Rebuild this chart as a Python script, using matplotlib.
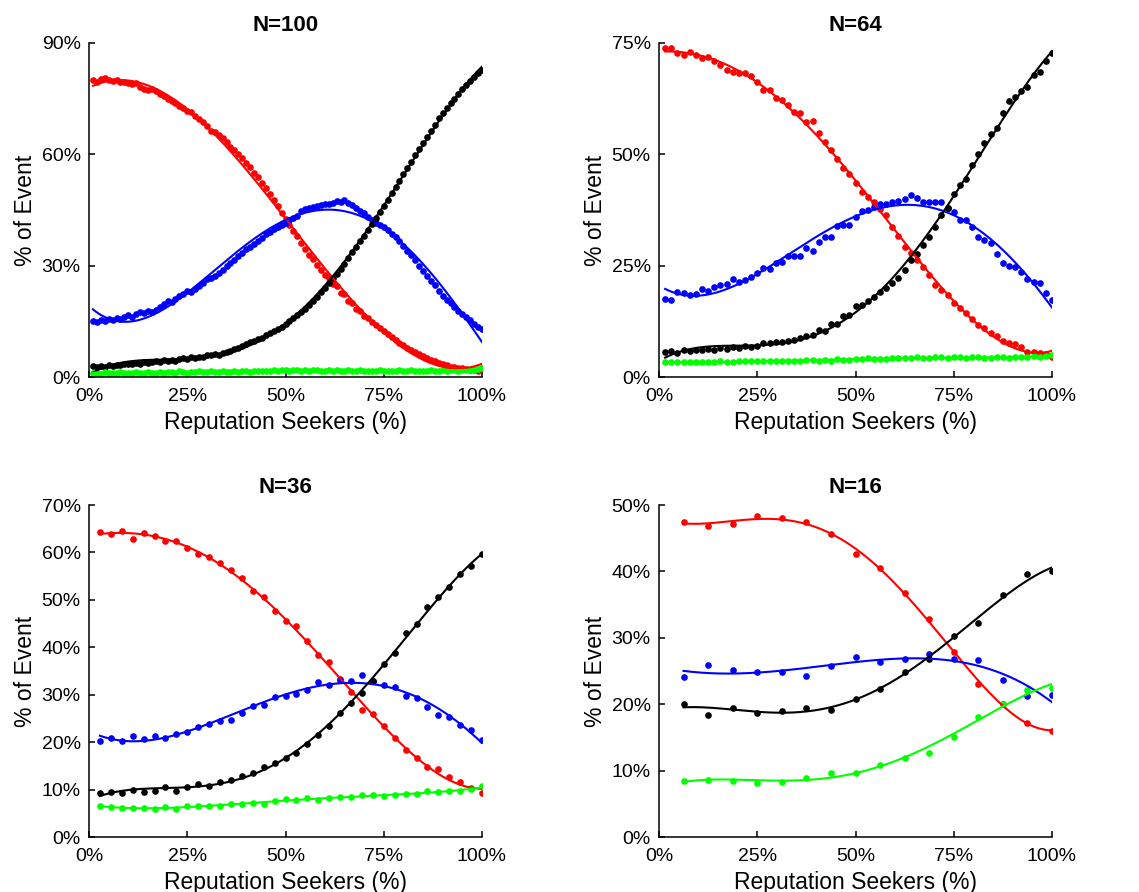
import numpy as np
import matplotlib
matplotlib.use("Agg")
import matplotlib.pyplot as plt
from matplotlib.ticker import FuncFormatter

plt.rcParams['font.family'] = ['Liberation Sans', 'DejaVu Sans']

# ---------------- data (values in % of event) ----------------
titles = ["N=100", "N=64", "N=36", "N=16"]
group_sizes = [100, 64, 36, 16]
y_max = [90, 75, 70, 50]
y_step = [30, 25, 10, 10]
x_ticks = [0, 25, 50, 75, 100]

# N=100
red_100 = [80.0, 79.6, 80.4, 80.6, 80.1, 79.8, 80.0, 79.5, 79.6, 79.1,
           78.9, 79.2, 78.2, 77.5, 77.4, 77.6, 77.0, 76.3, 75.6, 74.9,
           74.5, 73.9, 73.0, 72.6, 71.8, 71.5, 70.4, 69.5, 68.6, 67.5,
           66.4, 66.0, 65.1, 64.3, 63.2, 62.0, 61.1, 60.0, 58.9, 57.6,
           56.5, 55.0, 53.9, 52.2, 50.8, 49.4, 47.6, 46.1, 44.3, 42.6,
           41.0, 39.4, 37.9, 36.0, 34.6, 33.0, 31.8, 30.2, 28.9, 27.6,
           26.8, 25.0, 24.6, 22.7, 22.3, 20.5, 19.9, 18.4, 17.9, 16.5,
           15.8, 14.9, 14.0, 13.1, 12.3, 11.5, 10.7, 10.0, 9.2, 8.5,
           7.9, 7.3, 6.7, 6.1, 5.6, 5.1, 4.6, 4.2, 3.8, 3.4,
           3.1, 2.8, 2.6, 2.4, 2.3, 2.1, 2.0, 1.9, 1.7, 2.5]
black_100 = [2.9, 2.6, 3.0, 2.8, 3.2, 3.0, 3.3, 3.1, 3.6, 3.4,
             3.5, 3.8, 3.6, 4.0, 3.9, 4.1, 4.3, 4.0, 4.5, 4.3,
             4.6, 4.4, 4.8, 5.0, 4.9, 5.3, 5.1, 5.5, 5.4, 5.8,
             5.9, 6.2, 6.0, 6.5, 6.8, 7.1, 7.5, 7.9, 8.4, 8.9,
             9.3, 9.6, 10.2, 10.6, 11.3, 11.8, 12.4, 13.0, 13.6, 14.3,
             15.0, 15.8, 16.6, 17.5, 18.4, 19.3, 20.4, 21.5, 22.8, 24.0,
             25.3, 26.6, 27.8, 29.2, 30.5, 32.0, 33.6, 35.1, 36.6, 38.1,
             39.7, 41.3, 42.9, 44.5, 46.1, 47.8, 49.5, 51.2, 52.9, 54.6,
             56.3, 58.0, 59.7, 61.4, 63.0, 64.7, 66.4, 68.0, 69.7, 71.2,
             72.5, 73.8, 74.9, 76.2, 77.6, 78.7, 79.8, 80.9, 82.0, 82.6]
blue_100 = [15.0, 14.8, 15.4, 15.2, 15.6, 15.3, 15.9, 15.5, 16.2, 16.8,
            16.3, 17.0, 17.6, 17.2, 17.8, 17.5, 18.1, 18.9, 19.6, 20.4,
            20.1, 21.0, 21.8, 22.5, 23.3, 23.0, 23.8, 24.6, 25.4, 26.3,
            26.7, 27.3, 28.1, 28.9, 29.8, 30.6, 31.4, 32.5, 33.4, 34.5,
            34.9, 35.8, 36.6, 37.5, 38.4, 39.1, 39.8, 40.5, 40.9, 41.5,
            42.2, 42.8, 43.5, 44.6, 45.3, 45.5, 45.9, 46.1, 46.3, 46.6,
            46.7, 47.0, 47.3, 47.1, 47.6, 46.9, 46.4, 45.6, 44.8, 44.1,
            43.0, 42.2, 41.5, 41.0, 40.4, 39.5, 38.6, 37.6, 36.6, 35.4,
            34.0, 32.9, 31.5, 30.0, 28.5, 27.3, 26.0, 24.8, 23.2, 21.8,
            20.8, 19.9, 18.8, 17.8, 17.0, 16.2, 15.3, 14.2, 13.4, 13.0]
green_100 = [1.1, 1.2, 0.9, 1.3, 1.0, 1.2, 1.1, 1.3, 1.0, 1.2,
             1.1, 1.3, 1.2, 1.0, 1.4, 1.2, 1.1, 1.3, 1.2, 1.4,
             1.3, 1.2, 1.5, 1.3, 1.2, 1.4, 1.3, 1.5, 1.4, 1.3,
             1.5, 1.3, 1.4, 1.6, 1.4, 1.3, 1.5, 1.4, 1.6, 1.5,
             1.4, 1.6, 1.5, 1.7, 1.5, 1.6, 1.8, 1.7, 1.9, 1.8,
             1.7, 1.9, 1.8, 1.6, 1.8, 1.7, 1.9, 1.8, 1.7, 1.6,
             1.8, 1.7, 1.9, 1.7, 1.6, 1.8, 1.7, 1.6, 1.8, 1.7,
             1.5, 1.7, 1.6, 1.8, 1.6, 1.5, 1.7, 1.6, 1.8, 1.7,
             1.6, 1.8, 1.7, 1.5, 1.7, 1.6, 1.8, 1.7, 1.6, 1.8,
             1.7, 1.9, 1.8, 1.7, 1.9, 1.8, 2.0, 1.9, 2.1, 2.3]

# N=64
red_64 = [73.9, 73.9, 72.8, 72.4, 72.9, 72.4, 71.6, 71.9, 70.9, 70.1,
          68.9, 68.5, 68.3, 68.3, 67.5, 66.2, 64.4, 64.4, 62.6, 62.3,
          61.1, 59.6, 59.3, 57.2, 57.4, 54.8, 52.7, 51.0, 48.9, 46.9,
          45.5, 43.5, 41.6, 40.4, 39.2, 37.7, 36.4, 33.6, 31.7, 29.3,
          27.8, 26.3, 24.8, 22.9, 20.6, 19.5, 18.4, 16.7, 15.6, 14.4,
          13.1, 11.6, 11.1, 9.9, 9.2, 8.1, 7.7, 7.4, 6.8, 5.6,
          5.6, 5.4, 5.1, 4.5]
black_64 = [5.6, 5.8, 5.5, 6.0, 5.9, 6.1, 6.0, 6.2, 6.1, 6.4,
            6.3, 6.7, 6.6, 6.9, 6.8, 7.0, 7.6, 7.6, 7.8, 7.9,
            8.1, 8.4, 8.8, 9.2, 9.4, 10.6, 10.4, 12.0, 11.8, 13.6,
            14.0, 16.0, 16.2, 17.0, 18.0, 19.0, 20.0, 21.0, 22.3, 24.0,
            26.2, 27.6, 29.6, 31.5, 33.6, 36.4, 38.0, 41.0, 43.2, 44.5,
            47.5, 50.0, 52.5, 54.5, 56.0, 59.2, 62.0, 62.8, 64.3, 65.2,
            67.8, 68.5, 71.0, 72.8]
blue_64 = [17.5, 17.3, 19.0, 18.8, 18.5, 18.6, 19.7, 19.4, 20.3, 20.6,
           20.9, 22.1, 21.4, 21.8, 22.5, 23.3, 24.4, 24.2, 25.5, 25.9,
           27.2, 27.2, 27.2, 28.9, 28.4, 30.4, 31.5, 31.5, 33.8, 34.1,
           34.1, 36.0, 37.3, 37.5, 38.1, 38.9, 38.8, 39.4, 39.5, 39.9,
           40.9, 40.1, 39.4, 39.2, 39.2, 39.4, 37.9, 37.1, 35.3, 35.3,
           33.6, 31.5, 30.8, 30.0, 27.6, 25.7, 25.0, 24.8, 23.6, 21.9,
           21.4, 21.0, 18.8, 17.4]
green_64 = [3.3, 3.4, 3.3, 3.3, 3.4, 3.3, 3.3, 3.4, 3.3, 3.5,
            3.4, 3.4, 3.6, 3.5, 3.6, 3.5, 3.6, 3.5, 3.7, 3.6,
            3.7, 3.6, 3.5, 3.8, 3.8, 3.7, 3.8, 3.7, 4.0, 3.8,
            3.9, 4.0, 4.1, 4.2, 4.0, 4.1, 4.0, 4.3, 4.3, 4.2,
            4.2, 4.4, 4.3, 4.3, 4.4, 4.4, 4.3, 4.5, 4.4, 4.3,
            4.4, 4.4, 4.3, 4.2, 4.4, 4.4, 4.3, 4.5, 4.4, 4.6,
            4.7, 4.6, 4.8, 5.0]

# N=36
red_36 = [64.4, 63.8, 64.5, 62.8, 64.2, 63.5, 62.5, 62.5, 60.9, 59.7,
          59.1, 57.7, 56.3, 54.6, 51.9, 50.7, 47.7, 45.6, 44.5, 41.4,
          38.3, 36.8, 33.3, 30.5, 26.8, 25.9, 23.3, 20.9, 18.4, 16.6,
          14.7, 14.4, 12.6, 11.6, 10.3, 9.3]
black_36 = [9.3, 9.4, 9.3, 10.0, 9.5, 9.8, 10.5, 9.8, 10.5, 11.2,
            10.8, 11.5, 12.1, 12.8, 13.5, 14.7, 15.6, 16.6, 17.8, 19.7,
            21.6, 23.3, 26.1, 28.2, 30.3, 32.9, 36.4, 38.9, 43.0, 44.9,
            48.4, 50.7, 52.8, 55.4, 57.2, 59.6]
blue_36 = [20.2, 20.9, 20.3, 21.2, 20.7, 21.2, 20.9, 21.8, 22.1, 23.1,
           23.9, 24.4, 24.7, 26.1, 27.7, 27.9, 29.5, 29.8, 30.1, 31.0,
           32.7, 32.1, 33.1, 32.8, 34.1, 32.9, 32.0, 31.6, 29.8, 29.3,
           27.4, 25.8, 25.2, 23.7, 22.6, 20.5]
green_36 = [6.5, 6.3, 6.1, 6.1, 6.1, 5.9, 6.3, 6.0, 6.6, 6.5,
            6.5, 6.6, 7.0, 7.0, 7.2, 7.0, 7.5, 8.0, 7.7, 8.2,
            7.7, 8.2, 8.4, 8.4, 8.9, 8.9, 8.6, 8.9, 9.1, 9.1,
            9.6, 9.4, 9.6, 9.6, 10.1, 10.7]

# N=16
red_16 = [47.5, 46.9, 47.1, 48.4, 48.0, 47.5, 45.6, 42.6, 40.5, 36.7,
          32.9, 27.9, 23.0, 20.0, 17.2, 16.0]
black_16 = [20.1, 18.4, 19.5, 18.7, 19.0, 19.4, 19.2, 20.8, 22.3, 24.8,
            26.8, 30.2, 32.3, 36.4, 39.6, 40.0]
blue_16 = [24.1, 25.9, 25.1, 24.8, 24.8, 24.2, 25.7, 27.1, 26.4, 26.8,
           27.5, 26.8, 26.7, 23.7, 21.2, 21.4]
green_16 = [8.5, 8.6, 8.4, 8.2, 8.3, 8.9, 9.7, 9.6, 10.9, 11.9,
            12.7, 15.1, 18.0, 20.0, 22.2, 22.5]

panels = [
    [red_100, blue_100, black_100, green_100],
    [red_64, blue_64, black_64, green_64],
    [red_36, blue_36, black_36, green_36],
    [red_16, blue_16, black_16, green_16],
]
series_colors = ['#ff0000', '#0000ff', '#000000', '#00ff00']
fit_degree = 4

# ---------------- figure ----------------
W, H = 1139, 892
fig = plt.figure(figsize=(W / 100, H / 100), dpi=100)

# axes boxes in pixels: (left, top, right, bottom)
boxes = [(89, 43, 482, 377), (659, 43, 1052, 377),
         (89, 505, 482, 837), (659, 505, 1052, 837)]

pct = FuncFormatter(lambda v, p: f"{v:.0f}%")

for i, (l, t, r, b) in enumerate(boxes):
    ax = fig.add_axes([l / W, 1 - b / H, (r - l) / W, (b - t) / H])
    n = group_sizes[i]
    x = np.arange(1, n + 1) / n * 100
    for vals, col in zip(panels[i], series_colors):
        y = np.asarray(vals, dtype=float)
        ax.plot(x, y, 'o', color=col, markersize=4.8, markeredgewidth=0,
                zorder=2)
        coef = np.polyfit(x, y, fit_degree)
        xf = np.linspace(x[0], x[-1], 300)
        ax.plot(xf, np.polyval(coef, xf), '-', color=col, lw=1.5, zorder=3)
    ax.set_xlim(0, 100)
    ax.set_ylim(0, y_max[i])
    ax.set_xticks(x_ticks)
    ax.set_yticks(np.arange(0, y_max[i] + 0.1, y_step[i]))
    ax.xaxis.set_major_formatter(pct)
    ax.yaxis.set_major_formatter(pct)
    for s in ['top', 'right']:
        ax.spines[s].set_visible(False)
    for s in ['left', 'bottom']:
        ax.spines[s].set_linewidth(1.1)
    ax.tick_params(direction='in', length=4.5, width=1.1, labelsize=14,
                   colors='black')
    ax.tick_params(axis='x', pad=8)
    ax.tick_params(axis='y', pad=6)
    ax.set_title(titles[i], fontsize=16, fontweight='bold', pad=8.5)
    ax.set_xlabel("Reputation Seekers (%)", fontsize=16.5, labelpad=4)
    ax.set_ylabel("% of Event", fontsize=16.5, labelpad=3)
    ax.patch.set_visible(False)

fig.savefig("out.png", dpi=100)
